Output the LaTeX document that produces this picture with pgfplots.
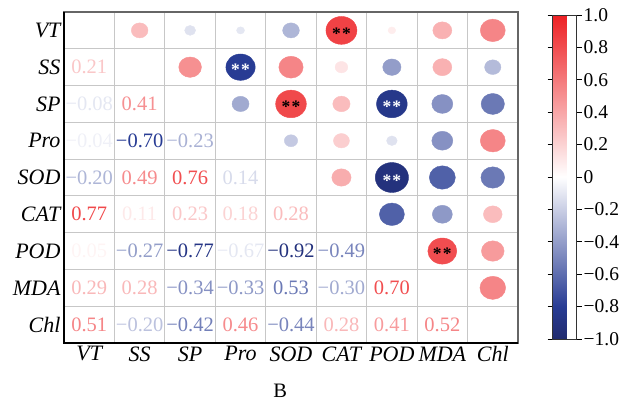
\documentclass[border=0pt]{standalone}
\usepackage{fontspec}
\setmainfont{Liberation Serif}
\usepackage{pgfplots}
\usepackage{pgfplotstable}
\pgfplotsset{compat=1.18}
\newcommand\numfont{\fontsize{20.5}{24}\selectfont}
\newcommand\cbfont{\fontsize{19.5}{23}\selectfont}
\newcommand\labfont{\fontsize{22}{26}\selectfont\itshape}
\newcommand\starfont{\fontsize{17.5}{20}\selectfont\bfseries}

% lower triangle: printed coefficients (c = colour value)
\pgfplotstableread{
x y c lab
0 1 0.25 0.21
0 2 -0.10 −0.08
1 2 0.50 0.41
0 3 -0.06 −0.04
1 3 -0.80 −0.70
2 3 -0.32 −0.23
0 4 -0.30 −0.20
1 4 0.52 0.49
2 4 0.80 0.76
3 4 -0.15 0.14
0 5 0.82 0.77
1 5 0.10 0.11
2 5 0.25 0.23
3 5 0.20 0.18
4 5 0.30 0.28
0 6 0.05 0.05
1 6 -0.40 −0.27
2 6 -0.88 −0.77
3 6 -0.10 −0.67
4 6 -0.92 −0.92
5 6 -0.50 −0.49
0 7 0.32 0.29
1 7 0.32 0.28
2 7 -0.45 −0.34
3 7 -0.42 −0.33
4 7 -0.55 0.53
5 7 -0.35 −0.30
6 7 0.80 0.70
0 8 0.55 0.51
1 8 -0.25 −0.20
2 8 -0.52 −0.42
3 8 0.52 0.46
4 8 -0.50 −0.44
5 8 0.32 0.28
6 8 0.45 0.41
7 8 0.55 0.52
}\lowtab

% upper triangle: circles (c = colour value, d = diameter)
\pgfplotstableread{
x y c d
1 0 0.30 16.7
2 0 -0.12 11
3 0 -0.10 8
4 0 -0.30 16.7
5 0 0.85 31
6 0 0.08 7.7
7 0 0.35 19
8 0 0.55 25
2 1 0.50 22.7
3 1 -0.80 29.3
4 1 0.55 24.3
5 1 0.12 12.7
6 1 -0.40 18.3
7 1 0.35 19
8 1 -0.28 16.3
3 2 -0.35 17
4 2 0.82 30.7
5 2 0.30 17.3
6 2 -0.85 30.7
7 2 -0.45 21
8 2 -0.55 23.3
4 3 -0.22 13.3
5 3 0.22 16
6 3 -0.12 10.7
7 3 -0.45 21
8 3 0.55 25
5 4 0.37 19.3
6 4 -0.92 33.3
7 4 -0.65 26
8 4 -0.55 23.7
6 5 -0.65 25
7 5 -0.42 20
8 5 0.30 18.7
7 6 0.80 29
8 6 0.45 22.7
8 7 0.55 25.7
}\uptab

\begin{document}
\begin{tikzpicture}
\begin{axis}[
  name=main,
  at={(0,0)}, anchor=south west,
  scale only axis, width=454pt, height=331pt,
  xmin=-0.5, xmax=8.5, ymin=-0.5, ymax=8.5, y dir=reverse,
  xtick={0,...,8}, ytick={0,...,8},
  xticklabels={VT,SS,SP,Pro,SOD,CAT,POD,MDA,Chl},
  yticklabels={VT,SS,SP,Pro,SOD,CAT,POD,MDA,Chl},
  major tick length=0pt,
  minor xtick={0.5,1.5,...,7.5}, minor ytick={0.5,1.5,...,7.5},
  minor tick length=0pt,
  grid=minor, minor grid style={draw=black!22, line width=0.9pt},
  axis line style={draw=black!60, line width=1.3pt},
  tick label style={font=\labfont},
  xlabel={B},
  xlabel style={at={(axis description cs:0.476,0)}, anchor=center, yshift=-48pt, font=\numfont},
  colormap={cm}{rgb255(0cm)=(33,43,110); rgb255(1cm)=(40,60,148); rgb255(5cm)=(255,255,255); rgb255(10cm)=(237,33,36)},
  point meta min=-1, point meta max=1,
  colorbar,
  colorbar style={
    at={(parent axis.south east)}, anchor=south west, xshift=26pt, yshift=4pt,
    width=24pt, height=324pt,
    ytick={-1,-0.8,-0.6,-0.4,-0.2,0,0.2,0.4,0.6,0.8,1},
    yticklabels={−1.0,−0.8,−0.6,−0.4,−0.2,0,0.2,0.4,0.6,0.8,1.0},
    yticklabel pos=right, tick align=outside, major tick length=5pt,
    tick style={black, line width=0.9pt},
    axis line style={draw=black!80, line width=0.8pt},
    yticklabel style={font=\cbfont, inner sep=2pt},
  },
  clip=false,
]
\draw[black, line width=1.3pt] (axis description cs:0,1) -- (axis description cs:0,0) -- (axis description cs:1,0);

\addplot[scatter, only marks, mark=*, point meta=\thisrow{c},
  scatter/use mapped color={draw=mapped color, fill=mapped color},
  visualization depends on={\thisrow{d}/2 \as \ms},
  scatter/@pre marker code/.append style={/tikz/mark size=\ms, /tikz/line width=0.3pt},
  mark options={yscale=0.9}]
  table[x=x, y=y] {\uptab};

\addplot[only marks, mark=none, point meta=explicit symbolic,
  visualization depends on={(\thisrow{c}+1)*500 \as \cidx},
  nodes near coords,
  nodes near coords style={anchor=center, /pgfplots/color of colormap={\cidx}, font=\numfont, inner sep=0pt}]
  table[x=x, y=y, meta=lab] {\lowtab};

\addplot[only marks, mark=none,
  nodes near coords={*\kern1.2pt*},
  nodes near coords style={anchor=center, text=black, font=\starfont, inner sep=0pt, yshift=-3pt}]
  coordinates {(5,0) (4,2) (7,6)};
\addplot[only marks, mark=none,
  nodes near coords={*\kern1.2pt*},
  nodes near coords style={anchor=center, text=white, font=\starfont, inner sep=0pt, yshift=-3pt}]
  coordinates {(3,1) (6,2) (6,4)};
\end{axis}
\pgfresetboundingbox
\path (-64pt,-58pt) rectangle (555pt,343pt);
\end{tikzpicture}
\end{document}
